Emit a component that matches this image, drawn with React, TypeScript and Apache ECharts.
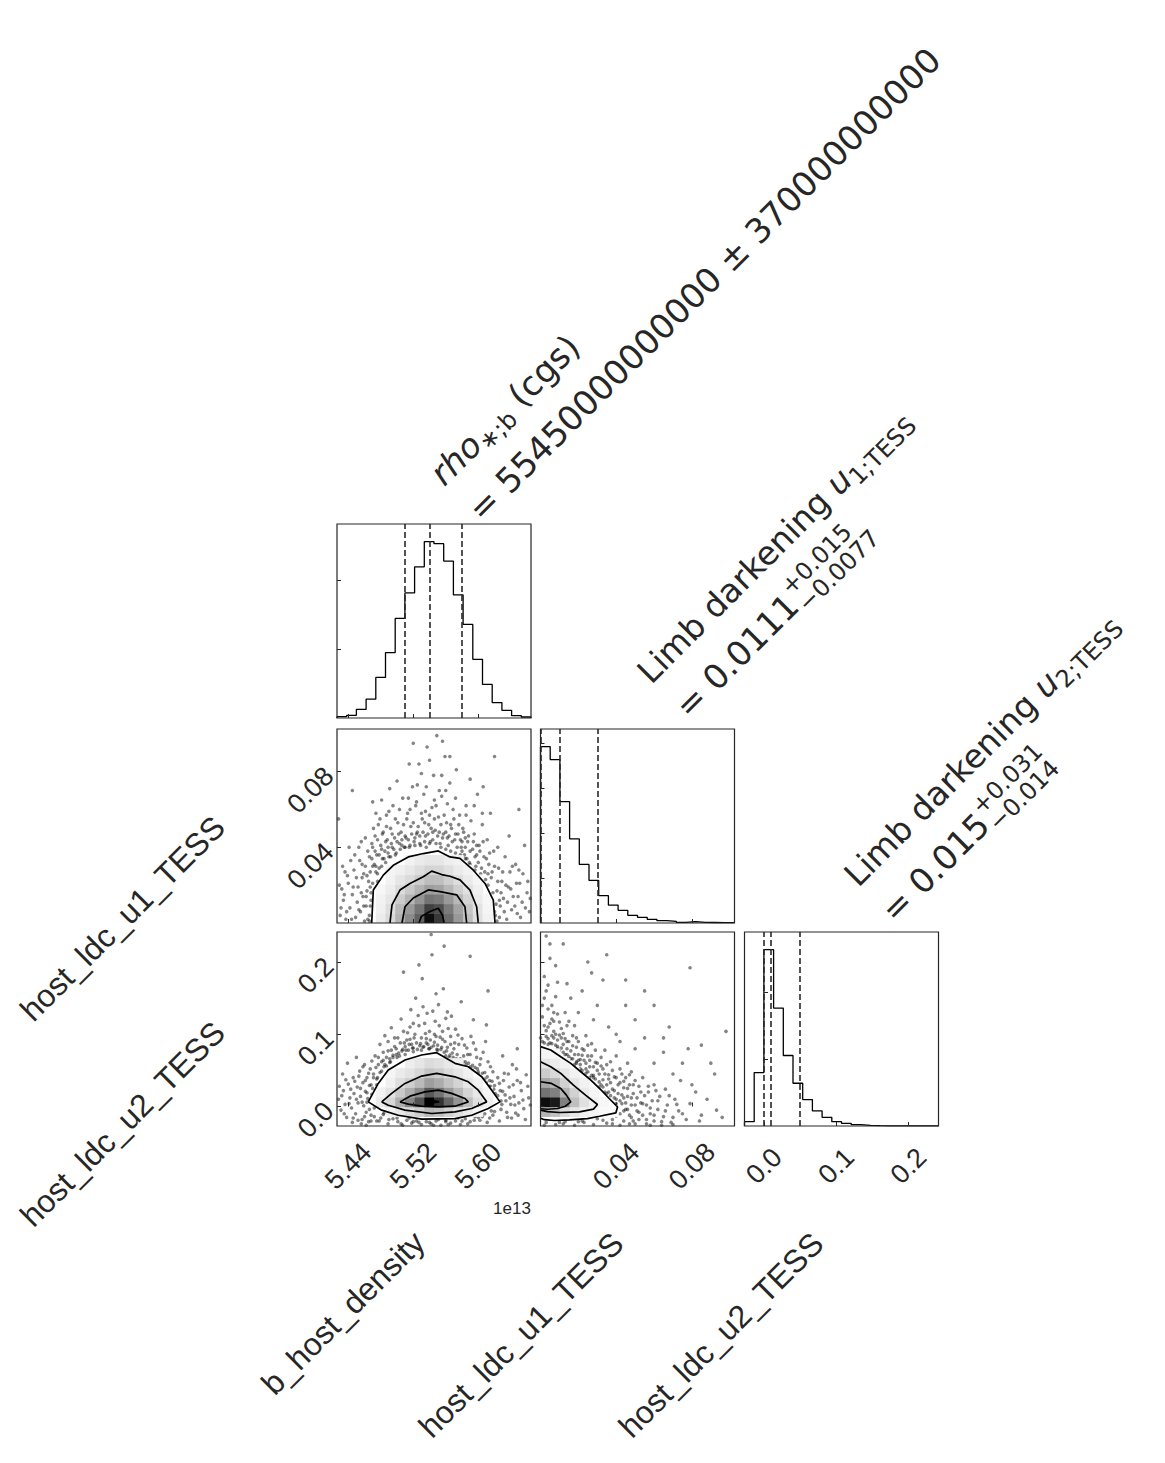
import React, { useEffect, useRef } from "react";
import * as echarts from "echarts";

// ---------- axis ranges (data units; density in units of 1e13) ----------
const DENS_RANGE = [5.4261, 5.6649];
const U1_RANGE = [0, 0.1025];
const U2_RANGE = [-0.027, 0.2415];

// ---------- tick values ----------
const DENS_TICKS = [5.44, 5.52, 5.6];
const U1_TICKS = [0.04, 0.08];
const U2_TICKS = [0.0, 0.1, 0.2];
const HIST_DENS_TICKS = [205, 410];
const HIST_U1_TICKS = [135, 270, 405, 540];
const HIST_U2_TICKS = [200, 400];

// ---------- 1D histograms (20 bins across the axis range) ----------
const HIST_DENS = [4, 8, 26, 56, 121, 195, 297, 373, 451, 526, 520, 468, 367, 279, 175, 100, 46, 23, 7, 3];
const HIST_U1 = [530, 491, 365, 253, 176, 128, 82, 54, 38, 23, 17, 11, 7, 5, 2, 4, 2, 1.5, 1, 1];
const HIST_U2 = [13, 160, 528, 353, 211, 128, 79, 45, 26, 13, 8, 4, 2, 1, 0.5, 0.5, 0.3, 0.2, 0.3, 0.2];

// quantiles (16%, 50%, 84%)
const Q_DENS = [5.508, 5.545, 5.582];
const Q_U1 = [0.0034, 0.0111, 0.0261];
const Q_U2 = [0.001, 0.015, 0.046];

// ---------- 2D density cells: [row, firstCol, darkness% ...] on a 20x20 grid ----------
const CELLS_DENS_U1 = [
  [0, 4, [8, 15, 30, 45, 62, 95, 78, 58, 40, 25, 12, 5]],
  [1, 4, [6, 13, 27, 40, 55, 75, 70, 52, 36, 22, 11, 4]],
  [2, 4, [5, 10, 20, 30, 42, 55, 52, 40, 28, 17, 8, 3]],
  [3, 4, [3, 7, 14, 21, 30, 38, 36, 28, 19, 12, 6]],
  [4, 5, [5, 10, 14, 20, 26, 25, 19, 13, 8, 4]],
  [5, 5, [4, 6, 9, 13, 17, 16, 12, 8, 5]],
  [6, 7, [5, 8, 10, 10, 7, 5]],
];
const CELLS_DENS_U2 = [
  [1, 5, [5, 9, 14, 20, 28, 25, 18, 12, 8, 4]],
  [2, 4, [8, 16, 32, 47, 68, 100, 80, 60, 42, 26, 13, 6]],
  [3, 4, [5, 11, 21, 32, 45, 65, 55, 40, 28, 17, 9, 4]],
  [4, 5, [6, 13, 19, 27, 38, 33, 24, 17, 10, 5]],
  [5, 5, [4, 8, 11, 16, 23, 20, 14, 10, 6]],
  [6, 7, [7, 10, 14, 12, 9, 6]],
];
const CELLS_U1_U2 = [
  [1, 0, [30, 25, 15, 10, 6, 4, 2, 1]],
  [2, 0, [95, 90, 50, 25, 12, 6, 3]],
  [3, 0, [55, 50, 30, 18, 8, 4]],
  [4, 0, [35, 30, 18, 10, 5]],
  [5, 0, [20, 15, 10, 5]],
  [6, 0, [10, 8, 5]],
  [7, 0, [4, 3]],
];

// ---------- contours (inner -> outer) ----------
const CONT_DENS_U1 = [
  [[5.527, 0], [5.530, 0.0035], [5.5406, 0.0061], [5.5508, 0.0078], [5.556, 0.004], [5.558, 0]],
  [[5.5061, 0], [5.5098, 0.0086], [5.52, 0.0132], [5.5385, 0.0175], [5.5529, 0.0166], [5.5734, 0.0149], [5.5836, 0.0086], [5.5857, 0]],
  [[5.4913, 0], [5.4938, 0.0096], [5.5036, 0.0174], [5.5159, 0.0209], [5.5323, 0.0244], [5.5427, 0.0274], [5.555, 0.0256], [5.5652, 0.0247], [5.5775, 0.0228], [5.5898, 0.0174], [5.598, 0.0086], [5.6, 0]],
  [[5.4688, 0], [5.4708, 0.0174], [5.4831, 0.0253], [5.4954, 0.0305], [5.5139, 0.0349], [5.5323, 0.0367], [5.5508, 0.0381], [5.5652, 0.0349], [5.5775, 0.0341], [5.5939, 0.0279], [5.6083, 0.0209], [5.6185, 0.0121], [5.6206, 0]],
];
const CONT_DENS_U2 = [
  [[5.537, 0.0062], [5.544, 0.008], [5.552, 0.0066], [5.544, 0.005], [5.537, 0.0062]],
  [[5.5036, 0.0064], [5.5159, 0.0143], [5.5344, 0.0203], [5.5508, 0.0226], [5.5672, 0.0181], [5.5836, 0.0111], [5.5877, 0.0064], [5.5713, 0.0004], [5.5508, -0.0006], [5.5303, 0.0004], [5.5139, 0.0032], [5.5036, 0.0064]],
  [[5.4811, 0.0064], [5.4934, 0.0181], [5.5098, 0.0319], [5.5303, 0.0421], [5.5488, 0.0458], [5.5713, 0.0411], [5.5877, 0.0342], [5.6, 0.0226], [5.6103, 0.0064], [5.5919, -0.0028], [5.5713, -0.0075], [5.5427, -0.0097], [5.5098, -0.0051], [5.4892, 0.0018], [5.4811, 0.0064]],
  [[5.4646, 0.0064], [5.4769, 0.0319], [5.4892, 0.0504], [5.5098, 0.0643], [5.5303, 0.0713], [5.5488, 0.0745], [5.5713, 0.0597], [5.5877, 0.055], [5.6042, 0.0411], [5.6166, 0.0226], [5.6267, 0.0064], [5.6123, -0.0028], [5.5919, -0.0121], [5.5713, -0.0167], [5.5303, -0.0176], [5.5015, -0.0121], [5.4811, -0.0051], [5.4646, 0.0064]],
];
const CONT_U1_U2 = [
  [[0, 0.0342], [0.0058, 0.0319], [0.0107, 0.025], [0.0137, 0.0157], [0.016, 0.0064], [0.0132, 0.0004], [0.009, -0.0028], [0.0037, -0.0038], [0, -0.0031]],
  [[0, 0.0619], [0.0054, 0.055], [0.0107, 0.0458], [0.0174, 0.0296], [0.0238, 0.0157], [0.0301, 0.0028], [0.028, -0.0037], [0.0206, -0.0075], [0.01, -0.0083], [0.0037, -0.0072], [0, -0.0051]],
  [[0, 0.0828], [0.0054, 0.0782], [0.0107, 0.0689], [0.016, 0.0597], [0.0213, 0.0481], [0.0266, 0.0365], [0.0321, 0.0226], [0.0363, 0.0111], [0.0407, -0.0006], [0.0398, -0.0089], [0.0312, -0.0135], [0.0248, -0.0167], [0.0153, -0.0186], [0.0074, -0.0194], [0.0021, -0.0183], [0, -0.0163]],
];

// ---------- samples outside the outermost contour ----------
const PTS_DENS_U1 = [
  [5.430, 0.004], [5.434, 0.012], [5.437, 0.002], [5.440, 0.021], [5.442, 0.008], [5.445, 0.015], [5.447, 0.028], [5.449, 0.003], [5.451, 0.011], [5.452, 0.019], [5.454, 0.033], [5.455, 0.006], [5.457, 0.024], [5.458, 0.014], [5.460, 0.001], [5.461, 0.030], [5.462, 0.009], [5.463, 0.017], [5.464, 0.038], [5.465, 0.022], [5.466, 0.004], [5.467, 0.027], [5.468, 0.012], [5.469, 0.034], [5.436, 0.027], [5.441, 0.040], [5.448, 0.036], [5.456, 0.043], [5.432, 0.018], [5.459, 0.026],
  [5.470, 0.040], [5.472, 0.031], [5.473, 0.046], [5.475, 0.036], [5.477, 0.052], [5.478, 0.029], [5.480, 0.041], [5.482, 0.034], [5.483, 0.048], [5.485, 0.038], [5.487, 0.057], [5.488, 0.044], [5.490, 0.035], [5.492, 0.050], [5.494, 0.040], [5.495, 0.062], [5.497, 0.045], [5.499, 0.037], [5.501, 0.053], [5.503, 0.042], [5.505, 0.048], [5.507, 0.066], [5.509, 0.040], [5.474, 0.058], [5.481, 0.065], [5.491, 0.071], [5.476, 0.022], [5.479, 0.018],
  [5.511, 0.045], [5.513, 0.058], [5.515, 0.040], [5.517, 0.051], [5.519, 0.072], [5.521, 0.043], [5.523, 0.062], [5.525, 0.048], [5.527, 0.084], [5.529, 0.041], [5.531, 0.055], [5.533, 0.068], [5.535, 0.046], [5.537, 0.093], [5.539, 0.052], [5.541, 0.043], [5.543, 0.061], [5.545, 0.078], [5.547, 0.049], [5.549, 0.099], [5.551, 0.056], [5.553, 0.042], [5.555, 0.067], [5.557, 0.047], [5.559, 0.088], [5.561, 0.053], [5.563, 0.041], [5.565, 0.074], [5.567, 0.050], [5.569, 0.060], [5.571, 0.044], [5.573, 0.081], [5.575, 0.047], [5.577, 0.057], [5.579, 0.040], [5.520, 0.095], [5.540, 0.086], [5.556, 0.096], [5.530, 0.079], [5.560, 0.070], [5.514, 0.066], [5.546, 0.065], [5.572, 0.066], [5.536, 0.040], [5.552, 0.048],
  [5.581, 0.050], [5.583, 0.036], [5.585, 0.062], [5.587, 0.043], [5.589, 0.032], [5.591, 0.054], [5.593, 0.039], [5.595, 0.047], [5.597, 0.030], [5.599, 0.068], [5.601, 0.041], [5.603, 0.026], [5.605, 0.052], [5.607, 0.035], [5.609, 0.023], [5.611, 0.044], [5.613, 0.031], [5.615, 0.058], [5.617, 0.027], [5.619, 0.038], [5.590, 0.076], [5.606, 0.072], [5.584, 0.045],
  [5.621, 0.004], [5.623, 0.017], [5.625, 0.029], [5.627, 0.009], [5.629, 0.022], [5.631, 0.013], [5.633, 0.035], [5.635, 0.002], [5.637, 0.019], [5.639, 0.027], [5.641, 0.007], [5.643, 0.014], [5.646, 0.031], [5.648, 0.005], [5.651, 0.021], [5.654, 0.011], [5.657, 0.041], [5.660, 0.016], [5.663, 0.006], [5.624, 0.040], [5.638, 0.046], [5.650, 0.028],
  [5.428, 0.055], [5.620, 0.088], [5.650, 0.060], [5.445, 0.070],
  [5.466, 0.001], [5.467, 0.009], [5.468, 0.016], [5.470, 0.021], [5.476, 0.026], [5.481, 0.030], [5.486, 0.032], [5.492, 0.035], [5.498, 0.036], [5.504, 0.039], [5.510, 0.040], [5.516, 0.041], [5.522, 0.041], [5.528, 0.042], [5.534, 0.043], [5.540, 0.042], [5.548, 0.042], [5.554, 0.040], [5.560, 0.039], [5.566, 0.038], [5.572, 0.037], [5.578, 0.036], [5.584, 0.034], [5.590, 0.031], [5.596, 0.028], [5.602, 0.024], [5.607, 0.019], [5.612, 0.015], [5.616, 0.010], [5.620, 0.006], [5.623, 0.001],
  [5.462, 0.014], [5.474, 0.030], [5.489, 0.040], [5.506, 0.044], [5.524, 0.047], [5.544, 0.048], [5.562, 0.045], [5.580, 0.043], [5.598, 0.036], [5.612, 0.026], [5.626, 0.012],
  [5.429, 0.020], [5.431, 0.008], [5.433, 0.030], [5.435, 0.015], [5.438, 0.006], [5.439, 0.025], [5.443, 0.033], [5.444, 0.002], [5.446, 0.019], [5.450, 0.024], [5.453, 0.007], [5.453, 0.040], [5.456, 0.016], [5.457, 0.031], [5.459, 0.009], [5.461, 0.045], [5.463, 0.025], [5.464, 0.002], [5.466, 0.035], [5.467, 0.019], [5.469, 0.042], [5.470, 0.030], [5.471, 0.050], [5.473, 0.038], [5.474, 0.027], [5.476, 0.044], [5.478, 0.036], [5.479, 0.055], [5.481, 0.039], [5.482, 0.047], [5.484, 0.034], [5.486, 0.043], [5.487, 0.051], [5.489, 0.037], [5.490, 0.059], [5.493, 0.042], [5.494, 0.047], [5.496, 0.039], [5.498, 0.055], [5.500, 0.043], [5.502, 0.047], [5.503, 0.060], [5.506, 0.041], [5.508, 0.052], [5.510, 0.046], [5.512, 0.055], [5.514, 0.044], [5.516, 0.060], [5.518, 0.047], [5.520, 0.053], [5.522, 0.045], [5.524, 0.064], [5.526, 0.051], [5.528, 0.046], [5.530, 0.058], [5.532, 0.048], [5.534, 0.053], [5.536, 0.072], [5.538, 0.047], [5.540, 0.057], [5.542, 0.050], [5.544, 0.044], [5.546, 0.055], [5.548, 0.062], [5.550, 0.046], [5.552, 0.070], [5.554, 0.052], [5.556, 0.045], [5.558, 0.057], [5.560, 0.048], [5.562, 0.063], [5.564, 0.046], [5.566, 0.052], [5.568, 0.043], [5.570, 0.055], [5.572, 0.047], [5.574, 0.040], [5.576, 0.052], [5.578, 0.044], [5.580, 0.038], [5.582, 0.048], [5.584, 0.040], [5.586, 0.034], [5.588, 0.046], [5.590, 0.038], [5.592, 0.029], [5.594, 0.043], [5.596, 0.035], [5.598, 0.041], [5.600, 0.032], [5.602, 0.038], [5.604, 0.029], [5.606, 0.043], [5.608, 0.027], [5.610, 0.034], [5.612, 0.020], [5.614, 0.037], [5.616, 0.024], [5.618, 0.016], [5.620, 0.030], [5.622, 0.010], [5.624, 0.022], [5.626, 0.003], [5.628, 0.016], [5.630, 0.027], [5.632, 0.006], [5.634, 0.020], [5.636, 0.011], [5.640, 0.018], [5.642, 0.030], [5.645, 0.009], [5.647, 0.021], [5.649, 0.014], [5.652, 0.003], [5.655, 0.026], [5.658, 0.008], [5.661, 0.022], [5.664, 0.013], [5.500, 0.075], [5.525, 0.073], [5.555, 0.078], [5.585, 0.057], [5.470, 0.064], [5.515, 0.084], [5.565, 0.088], [5.535, 0.059], [5.595, 0.062], [5.605, 0.058],
];
const PTS_DENS_U2 = [
  [5.428, 0.010], [5.431, -0.005], [5.434, 0.022], [5.436, 0.003], [5.438, -0.015], [5.440, 0.031], [5.442, 0.012], [5.444, -0.002], [5.446, 0.040], [5.447, 0.018], [5.449, -0.010], [5.451, 0.027], [5.452, 0.005], [5.454, 0.049], [5.455, 0.014], [5.457, -0.018], [5.458, 0.033], [5.459, 0.001], [5.460, 0.058], [5.461, 0.021], [5.462, -0.008], [5.463, 0.040], [5.464, 0.011], [5.465, -0.021], [5.466, 0.029], [5.467, 0.052], [5.468, -0.012], [5.469, 0.017], [5.433, 0.045], [5.439, 0.060], [5.445, -0.022], [5.450, 0.068], [5.456, -0.024],
  [5.472, -0.014], [5.478, -0.020], [5.483, -0.011], [5.489, -0.024], [5.495, -0.017], [5.501, -0.021], [5.507, -0.026], [5.512, -0.019], [5.518, -0.023], [5.524, -0.020], [5.530, -0.025], [5.536, -0.021], [5.542, -0.024], [5.548, -0.020], [5.554, -0.026], [5.560, -0.019], [5.566, -0.023], [5.572, -0.020], [5.578, -0.025], [5.584, -0.017], [5.590, -0.021], [5.596, -0.014], [5.602, -0.019], [5.608, -0.010], [5.614, -0.016], [5.620, -0.007],
  [5.471, 0.045], [5.473, 0.070], [5.475, 0.038], [5.477, 0.058], [5.479, 0.086], [5.481, 0.049], [5.483, 0.064], [5.485, 0.098], [5.487, 0.056], [5.489, 0.077], [5.491, 0.061], [5.493, 0.109], [5.495, 0.068], [5.497, 0.083], [5.499, 0.072], [5.501, 0.095], [5.503, 0.070], [5.505, 0.121], [5.507, 0.079], [5.509, 0.088], [5.480, 0.032], [5.476, 0.024], [5.486, 0.042],
  [5.511, 0.078], [5.513, 0.102], [5.515, 0.086], [5.517, 0.134], [5.519, 0.081], [5.521, 0.095], [5.523, 0.150], [5.525, 0.079], [5.527, 0.112], [5.529, 0.087], [5.531, 0.177], [5.533, 0.083], [5.535, 0.101], [5.537, 0.129], [5.539, 0.080], [5.541, 0.092], [5.543, 0.210], [5.545, 0.084], [5.547, 0.118], [5.549, 0.079], [5.551, 0.141], [5.553, 0.096], [5.555, 0.082], [5.557, 0.163], [5.559, 0.090], [5.561, 0.077], [5.563, 0.108], [5.565, 0.071], [5.567, 0.125], [5.569, 0.068], [5.571, 0.088], [5.573, 0.066], [5.575, 0.099], [5.577, 0.064], [5.579, 0.145], [5.542, 0.238], [5.527, 0.196], [5.558, 0.222], [5.508, 0.186], [5.590, 0.208], [5.520, 0.115], [5.546, 0.100], [5.536, 0.088], [5.556, 0.104], [5.566, 0.086], [5.516, 0.093], [5.532, 0.138], [5.548, 0.156], [5.562, 0.131],
  [5.581, 0.062], [5.583, 0.085], [5.585, 0.058], [5.587, 0.072], [5.589, 0.050], [5.591, 0.097], [5.593, 0.057], [5.595, 0.044], [5.597, 0.079], [5.599, 0.052], [5.601, 0.038], [5.603, 0.066], [5.605, 0.046], [5.607, 0.031], [5.609, 0.090], [5.611, 0.041], [5.613, 0.028], [5.615, 0.055], [5.617, 0.035], [5.619, 0.024], [5.594, 0.120], [5.610, 0.113],
  [5.624, 0.015], [5.626, 0.032], [5.628, -0.004], [5.630, 0.021], [5.632, 0.046], [5.634, 0.008], [5.636, -0.015], [5.638, 0.027], [5.640, 0.003], [5.642, 0.058], [5.644, 0.014], [5.646, -0.009], [5.648, 0.036], [5.650, 0.005], [5.653, 0.022], [5.656, -0.003], [5.659, 0.044], [5.662, 0.012], [5.630, 0.070], [5.648, 0.080], [5.626, -0.020], [5.612, 0.160],
  [5.463, 0.006], [5.470, 0.025], [5.476, 0.040], [5.484, 0.055], [5.492, 0.062], [5.500, 0.068], [5.510, 0.072], [5.520, 0.076], [5.530, 0.078], [5.540, 0.080], [5.550, 0.078], [5.560, 0.070], [5.570, 0.065], [5.580, 0.060], [5.590, 0.055], [5.600, 0.048], [5.608, 0.038], [5.615, 0.028], [5.621, 0.018], [5.628, 0.008], [5.616, -0.006], [5.600, -0.015], [5.580, -0.020], [5.560, -0.021], [5.540, -0.022], [5.520, -0.021], [5.500, -0.016], [5.484, -0.009], [5.472, -0.002],
  [5.429, 0.028], [5.432, 0.015], [5.435, -0.010], [5.437, 0.037], [5.441, 0.004], [5.443, 0.024], [5.446, -0.016], [5.448, 0.035], [5.450, 0.010], [5.452, -0.019], [5.453, 0.042], [5.455, 0.025], [5.457, 0.006], [5.458, 0.055], [5.460, -0.014], [5.461, 0.036], [5.463, 0.019], [5.465, 0.046], [5.466, -0.004], [5.468, 0.030], [5.469, 0.063], [5.471, 0.040], [5.472, 0.012], [5.474, 0.054], [5.475, 0.030], [5.477, 0.068], [5.479, 0.047], [5.481, 0.062], [5.483, 0.075], [5.485, 0.058], [5.487, 0.068], [5.489, 0.090], [5.491, 0.066], [5.493, 0.078], [5.495, 0.071], [5.497, 0.095], [5.499, 0.080], [5.502, 0.074], [5.504, 0.088], [5.506, 0.077], [5.508, 0.104], [5.510, 0.083], [5.512, 0.092], [5.514, 0.078], [5.516, 0.110], [5.518, 0.086], [5.520, 0.081], [5.522, 0.100], [5.524, 0.088], [5.526, 0.126], [5.528, 0.084], [5.530, 0.095], [5.532, 0.082], [5.534, 0.115], [5.536, 0.094], [5.538, 0.086], [5.540, 0.104], [5.542, 0.082], [5.544, 0.132], [5.546, 0.089], [5.548, 0.097], [5.550, 0.085], [5.552, 0.112], [5.554, 0.079], [5.556, 0.093], [5.558, 0.075], [5.560, 0.122], [5.562, 0.082], [5.564, 0.068], [5.566, 0.097], [5.568, 0.074], [5.570, 0.080], [5.572, 0.107], [5.574, 0.072], [5.576, 0.086], [5.578, 0.066], [5.580, 0.094], [5.582, 0.070], [5.584, 0.062], [5.586, 0.081], [5.588, 0.060], [5.590, 0.072], [5.592, 0.052], [5.594, 0.088], [5.596, 0.054], [5.598, 0.068], [5.600, 0.045], [5.602, 0.058], [5.604, 0.040], [5.606, 0.075], [5.608, 0.047], [5.610, 0.033], [5.612, 0.062], [5.614, 0.036], [5.616, 0.021], [5.618, 0.048], [5.620, 0.029], [5.622, 0.010], [5.624, 0.040], [5.627, 0.022], [5.629, 0.003], [5.631, 0.036], [5.633, 0.016], [5.635, -0.008], [5.637, 0.045], [5.639, 0.012], [5.641, -0.016], [5.643, 0.030], [5.645, 0.002], [5.647, 0.052], [5.649, -0.012], [5.652, 0.033], [5.655, 0.009], [5.658, -0.018], [5.661, 0.028], [5.664, 0.002], [5.475, -0.020], [5.490, -0.018], [5.505, -0.024], [5.515, -0.016], [5.527, -0.022], [5.545, -0.026], [5.551, -0.018], [5.563, -0.025], [5.575, -0.016], [5.587, -0.024], [5.595, -0.019], [5.605, -0.014], [5.611, -0.022], [5.618, -0.012], [5.480, -0.016], [5.468, -0.020], [5.462, -0.026],
];
const PTS_U1_U2 = [
  [0.001, 0.090], [0.002, 0.112], [0.003, 0.097], [0.004, 0.135], [0.005, 0.088], [0.006, 0.121], [0.007, 0.104], [0.008, 0.152], [0.009, 0.092], [0.010, 0.117], [0.001, 0.140], [0.003, 0.160], [0.006, 0.098], [0.008, 0.085], [0.002, 0.180], [0.005, 0.205], [0.003, 0.236], [0.009, 0.172], [0.004, 0.110], [0.007, 0.130],
  [0.011, 0.081], [0.012, 0.101], [0.013, 0.072], [0.014, 0.090], [0.015, 0.118], [0.016, 0.066], [0.017, 0.084], [0.018, 0.058], [0.019, 0.095], [0.020, 0.072], [0.021, 0.052], [0.022, 0.080], [0.023, 0.064], [0.024, 0.046], [0.025, 0.070], [0.026, 0.055], [0.027, 0.087], [0.028, 0.043], [0.029, 0.061], [0.030, 0.050], [0.013, 0.130], [0.018, 0.112], [0.024, 0.098], [0.016, 0.150], [0.027, 0.185], [0.011, 0.095], [0.021, 0.065], [0.026, 0.040],
  [0.031, 0.034], [0.032, 0.056], [0.033, 0.027], [0.034, 0.045], [0.035, 0.018], [0.036, 0.038], [0.037, 0.062], [0.038, 0.024], [0.039, 0.041], [0.040, 0.010], [0.041, 0.030], [0.042, 0.052], [0.043, 0.016], [0.044, 0.035], [0.045, 0.005], [0.046, 0.025], [0.047, 0.044], [0.048, 0.012], [0.049, 0.030], [0.050, 0.002], [0.034, 0.078], [0.040, 0.070], [0.046, 0.060],
  [0.042, -0.010], [0.044, -0.020], [0.046, -0.004], [0.048, -0.015], [0.050, -0.024], [0.052, -0.008], [0.054, 0.004], [0.056, -0.018], [0.058, -0.002], [0.060, -0.012], [0.062, 0.008], [0.064, -0.021], [0.066, -0.006], [0.068, 0.015], [0.070, -0.015], [0.053, 0.020], [0.057, 0.028], [0.061, 0.022], [0.072, 0.003], [0.075, -0.010],
  [0.003, -0.022], [0.008, -0.025], [0.013, -0.021], [0.018, -0.026], [0.023, -0.022], [0.028, -0.025], [0.033, -0.019], [0.038, -0.024],
  [0.004, 0.086], [0.009, 0.080], [0.014, 0.072], [0.019, 0.062], [0.024, 0.052], [0.028, 0.040], [0.032, 0.030], [0.036, 0.020], [0.039, 0.012], [0.043, 0.004], [0.044, -0.006], [0.040, -0.013], [0.030, -0.017], [0.020, -0.021], [0.010, -0.022],
  [0.012, 0.225], [0.035, 0.210], [0.045, 0.175], [0.060, 0.140], [0.079, 0.192], [0.068, 0.110], [0.085, 0.085], [0.098, 0.104], [0.092, 0.045], [0.080, 0.030], [0.088, 0.010], [0.096, -0.015], [0.075, 0.060], [0.055, 0.095], [0.065, 0.075], [0.050, 0.120], [0.030, 0.140], [0.022, 0.160], [0.040, 0.100], [0.084, -0.020],
  [0.000, 0.095], [0.001, 0.124], [0.002, 0.088], [0.002, 0.150], [0.003, 0.105], [0.004, 0.094], [0.004, 0.168], [0.005, 0.115], [0.006, 0.087], [0.006, 0.140], [0.007, 0.095], [0.007, 0.118], [0.008, 0.100], [0.009, 0.083], [0.009, 0.128], [0.010, 0.099], [0.010, 0.078], [0.011, 0.108], [0.012, 0.086], [0.012, 0.075], [0.013, 0.094], [0.014, 0.080], [0.014, 0.112], [0.015, 0.069], [0.015, 0.090], [0.016, 0.077], [0.017, 0.066], [0.017, 0.098], [0.018, 0.072], [0.019, 0.060], [0.019, 0.082], [0.020, 0.064], [0.020, 0.090], [0.021, 0.058], [0.022, 0.071], [0.022, 0.050], [0.023, 0.078], [0.024, 0.060], [0.025, 0.048], [0.025, 0.085], [0.026, 0.064], [0.027, 0.043], [0.027, 0.070], [0.028, 0.055], [0.029, 0.038], [0.029, 0.078], [0.030, 0.060], [0.031, 0.027], [0.031, 0.045], [0.032, 0.068], [0.033, 0.037], [0.033, 0.052], [0.034, 0.020], [0.035, 0.030], [0.035, 0.058], [0.036, 0.044], [0.037, 0.015], [0.037, 0.033], [0.038, 0.050], [0.039, 0.022], [0.040, 0.040], [0.040, 0.004], [0.041, 0.018], [0.042, 0.033], [0.042, 0.008], [0.043, 0.045], [0.044, 0.012], [0.044, 0.026], [0.045, -0.004], [0.045, 0.040], [0.046, 0.014], [0.047, -0.012], [0.047, 0.030], [0.048, 0.002], [0.048, 0.048], [0.049, -0.020], [0.049, 0.018], [0.050, 0.036], [0.051, -0.006], [0.051, 0.012], [0.052, -0.018], [0.052, 0.028], [0.053, 0.005], [0.054, -0.012], [0.054, 0.040], [0.055, 0.015], [0.056, -0.024], [0.056, 0.002], [0.057, 0.020], [0.058, -0.010], [0.059, 0.008], [0.060, -0.020], [0.060, 0.030], [0.062, -0.004], [0.063, 0.014], [0.065, -0.014], [0.066, 0.024], [0.067, 0.002], [0.069, -0.022], [0.071, 0.010], [0.073, -0.006], [0.074, 0.036], [0.077, -0.018], [0.079, 0.004], [0.082, 0.020], [0.085, -0.012], [0.090, 0.060], [0.093, -0.005], [0.060, 0.060], [0.070, 0.045], [0.065, 0.095], [0.078, 0.080], [0.050, 0.080], [0.042, 0.090], [0.036, 0.110], [0.028, 0.120], [0.020, 0.130], [0.014, 0.170], [0.008, 0.195], [0.005, 0.225], [0.045, 0.140], [0.055, 0.160], [0.025, 0.200], [0.033, 0.175], [0.002, -0.026], [0.012, -0.024], [0.022, -0.020], [0.035, -0.023], [0.042, -0.026], [0.047, -0.024], [0.038, -0.018], [0.058, -0.026], [0.064, -0.026], [0.070, -0.025],
];

// ---------- texts ----------
const X_LABELS = ["b_host_density", "host_ldc_u1_TESS", "host_ldc_u2_TESS"];
const Y_LABELS = ["host_ldc_u1_TESS", "host_ldc_u2_TESS"];
const OFFSET_TEXT = "1e13";

const INK = "#262626";
const TITLE_FONT = '"DejaVu Sans"';
const LABEL_FONT = '"Liberation Sans"';

let _ctx: any = null;
function textWidth(text: string, size: number, italic?: boolean) {
  if (!_ctx) _ctx = document.createElement("canvas").getContext("2d");
  _ctx.font = `${italic ? "italic " : ""}${size}px ${TITLE_FONT}`;
  return _ctx.measureText(text).width;
}
function tText(x: number, dy: number, text: string, size: number, italic?: boolean) {
  return {
    type: "text",
    x,
    y: dy - 0.3 * size,
    style: {
      text,
      font: `${italic ? "italic " : ""}${size}px ${TITLE_FONT}`,
      fill: INK,
      textAlign: "left",
      textVerticalAlign: "middle",
      verticalAlign: "middle",
    },
  };
}
function titleLine(x: number, y: number, segs: any[]) {
  let cur = 0;
  const children: any[] = [];
  for (const s of segs) {
    if (s.t !== undefined) {
      children.push(tText(cur, s.dy || 0, s.t, s.size, s.italic));
      cur += textWidth(s.t, s.size, s.italic);
    } else {
      children.push(tText(cur + 1, -15, s.sup, s.size));
      children.push(tText(cur + 1, 9, s.sub, s.size));
      cur += Math.max(textWidth(s.sup, s.size), textWidth(s.sub, s.size));
    }
  }
  return { type: "group", x, y, rotation: Math.PI / 4, children };
}
function rotLabel(x: number, y: number, text: string, size: number) {
  return {
    type: "text",
    x,
    y,
    rotation: Math.PI / 4,
    style: {
      text,
      font: `${size}px ${LABEL_FONT}`,
      fill: INK,
      textAlign: "center",
      textVerticalAlign: "middle",
      verticalAlign: "middle",
    },
  };
}

function stepData(counts: number[], range: number[]) {
  const n = counts.length;
  const dx = (range[1] - range[0]) / n;
  const d: number[][] = [[range[0], 0]];
  counts.forEach((c, i) => d.push([range[0] + i * dx, c]));
  d.push([range[1], counts[n - 1]]);
  d.push([range[1], 0]);
  return d;
}

function histSeries(idx: number, counts: number[], range: number[], q: number[]) {
  return {
    type: "line",
    xAxisIndex: idx,
    yAxisIndex: idx,
    step: "end",
    symbol: "none",
    silent: true,
    z: 4,
    data: stepData(counts, range),
    lineStyle: { color: "#000", width: 1.3 },
    markLine: {
      silent: true,
      symbol: ["none", "none"],
      label: { show: false },
      lineStyle: { color: "#2a2a2a", type: [6, 3], width: 1.6 },
      data: q.map((v) => ({ xAxis: v })),
    },
  };
}

function panel2d(idx: number, pts: number[][], conts: number[][][], cells: any[], xr: number[], yr: number[]) {
  const outer = conts[conts.length - 1];
  const dx = (xr[1] - xr[0]) / 20;
  const dy = (yr[1] - yr[0]) / 20;
  const cellData: number[][] = [];
  cells.forEach(([r, c0, vals]: any) =>
    vals.forEach((v: number, k: number) => {
      const c = c0 + k;
      cellData.push([xr[0] + c * dx, xr[0] + (c + 1) * dx, yr[0] + r * dy, yr[0] + (r + 1) * dy, v]);
    })
  );
  const list: any[] = [
    {
      type: "scatter",
      xAxisIndex: idx,
      yAxisIndex: idx,
      z: 1,
      silent: true,
      data: pts,
      symbolSize: 3.6,
      itemStyle: { color: "rgba(0,0,0,0.6)" },
    },
    {
      type: "custom",
      xAxisIndex: idx,
      yAxisIndex: idx,
      z: 2,
      silent: true,
      clip: true,
      data: [outer[0]],
      renderItem: (_p: any, api: any) => ({
        type: "polygon",
        shape: { points: outer.map((p) => api.coord(p)) },
        style: { fill: "#ffffff" },
      }),
    },
    {
      type: "custom",
      xAxisIndex: idx,
      yAxisIndex: idx,
      z: 3,
      silent: true,
      clip: true,
      encode: { x: [0, 1], y: [2, 3] },
      data: cellData,
      renderItem: (_p: any, api: any) => {
        const a = api.coord([api.value(0), api.value(3)]);
        const b = api.coord([api.value(1), api.value(2)]);
        const g = Math.round(255 * (1 - api.value(4) / 100));
        return {
          type: "rect",
          shape: { x: a[0], y: a[1], width: b[0] - a[0] + 0.6, height: b[1] - a[1] + 0.6 },
          style: { fill: `rgb(${g},${g},${g})` },
        };
      },
    },
  ];
  conts.forEach((c) =>
    list.push({
      type: "line",
      xAxisIndex: idx,
      yAxisIndex: idx,
      z: 4,
      silent: true,
      symbol: "none",
      data: c,
      lineStyle: { color: "#000", width: 1.7 },
    })
  );
  return list;
}

function vAxis(gridIndex: number, range: number[], ticks: number[], showLabels: boolean, isX: boolean, digits: number) {
  return {
    type: "value",
    gridIndex,
    min: range[0],
    max: range[1],
    z: 10,
    axisLine: { show: false },
    splitLine: { show: false },
    axisTick: { show: true, inside: true, length: 4, customValues: ticks, lineStyle: { color: INK, width: 1 } },
    axisLabel: {
      show: showLabels,
      customValues: ticks,
      formatter: (v: number) => v.toFixed(digits),
      rotate: 45,
      fontFamily: "Liberation Sans",
      fontSize: 27,
      color: INK,
      margin: isX ? 40 : 8,
      ...(isX ? { align: "center", verticalAlign: "middle" } : {}),
    },
  };
}

export default function App() {
  const ref = useRef<HTMLDivElement>(null);
  useEffect(() => {
    document.body.style.margin = "0";
    const chart = echarts.init(ref.current!, null, { renderer: "svg" });
    const lefts = [337, 540.5, 744.5];
    const tops = [524, 729, 932];
    const cells = [
      [0, 0], [1, 0], [1, 1], [2, 0], [2, 1], [2, 2],
    ];
    const grid = cells.map(([r, c]) => ({
      left: lefts[c],
      top: tops[r],
      width: 194,
      height: 194,
      show: true,
      z: 10,
      backgroundColor: "rgba(0,0,0,0)",
      borderColor: INK,
      borderWidth: 1.2,
    }));
    const hmax = (a: number[]) => 1.1 * Math.max(...a);
    const xAxis = [
      vAxis(0, DENS_RANGE, DENS_TICKS, false, true, 2),
      vAxis(1, DENS_RANGE, DENS_TICKS, false, true, 2),
      vAxis(2, U1_RANGE, U1_TICKS, false, true, 2),
      vAxis(3, DENS_RANGE, DENS_TICKS, true, true, 2),
      vAxis(4, U1_RANGE, U1_TICKS, true, true, 2),
      vAxis(5, U2_RANGE, U2_TICKS, true, true, 1),
    ];
    const yAxis = [
      vAxis(0, [0, hmax(HIST_DENS)], HIST_DENS_TICKS, false, false, 0),
      vAxis(1, U1_RANGE, U1_TICKS, true, false, 2),
      vAxis(2, [0, hmax(HIST_U1)], HIST_U1_TICKS, false, false, 0),
      vAxis(3, U2_RANGE, U2_TICKS, true, false, 1),
      vAxis(4, U2_RANGE, U2_TICKS, false, false, 1),
      vAxis(5, [0, hmax(HIST_U2)], HIST_U2_TICKS, false, false, 0),
    ];
    const series = [
      histSeries(0, HIST_DENS, DENS_RANGE, Q_DENS),
      ...panel2d(1, PTS_DENS_U1, CONT_DENS_U1, CELLS_DENS_U1, DENS_RANGE, U1_RANGE),
      histSeries(2, HIST_U1, U1_RANGE, Q_U1),
      ...panel2d(3, PTS_DENS_U2, CONT_DENS_U2, CELLS_DENS_U2, DENS_RANGE, U2_RANGE),
      ...panel2d(4, PTS_U1_U2, CONT_U1_U2, CELLS_U1_U2, U1_RANGE, U2_RANGE),
      histSeries(5, HIST_U2, U2_RANGE, Q_U2),
    ];
    const T = 34, T2 = 33, S = 24;
    const graphic = [
      titleLine(443, 486, [
        { t: "rho", size: T, italic: true },
        { t: "\u2217;b", size: S, dy: 7 },
        { t: " (cgs)", size: T },
      ]),
      titleLine(481, 522, [{ t: "= 55450000000000 \u00b1 370000000000", size: T }]),
      titleLine(650, 684, [
        { t: "Limb darkening ", size: T2 },
        { t: "u", size: T2, italic: true },
        { t: "1;TESS", size: S, dy: 7 },
      ]),
      titleLine(688, 719, [{ t: "= 0.0111", size: T }, { sup: "+0.015", sub: "\u22120.0077", size: S }]),
      titleLine(857, 887, [
        { t: "Limb darkening ", size: T2 },
        { t: "u", size: T2, italic: true },
        { t: "2;TESS", size: S, dy: 7 },
      ]),
      titleLine(894, 923, [{ t: "= 0.015", size: T }, { sup: "+0.031", sub: "\u22120.014", size: S }]),
      rotLabel(122.5, 918.5, Y_LABELS[0], 32),
      rotLabel(122.5, 1124, Y_LABELS[1], 32),
      rotLabel(343, 1313, X_LABELS[0], 32),
      rotLabel(521, 1335, X_LABELS[1], 32),
      rotLabel(721, 1335, X_LABELS[2], 32),
      {
        type: "text",
        x: 512,
        y: 1208,
        style: {
          text: OFFSET_TEXT,
          font: `17px ${LABEL_FONT}`,
          fill: INK,
          textAlign: "center",
          textVerticalAlign: "middle",
          verticalAlign: "middle",
        },
      },
    ];
    chart.setOption({
      animation: false,
      backgroundColor: "#ffffff",
      grid,
      xAxis,
      yAxis,
      series,
      graphic,
    });
    return () => chart.dispose();
  }, []);
  return <div ref={ref} style={{ width: 1165, height: 1463 }} />;
}
